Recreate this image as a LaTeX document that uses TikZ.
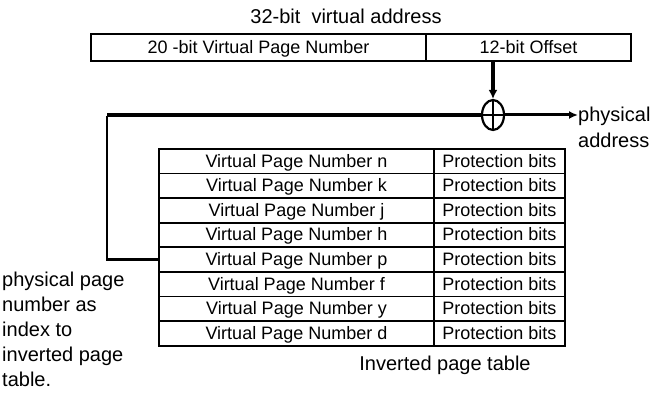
\documentclass[tikz,border=0pt]{standalone}
\usepackage{fontspec}
\setmainfont{Liberation Sans}
\usetikzlibrary{arrows.meta,shapes.geometric}
\newcommand{\cellfnt}{\fontsize{18}{20}\selectfont}
\newcommand{\lblfnt}{\fontsize{20}{25}\selectfont}
\begin{document}
\begin{tikzpicture}[x=1pt,y=-1pt,
  cell/.style={draw, line width=1.9pt, inner sep=0pt, font=\cellfnt, anchor=north west,
    text height=12.9pt, text depth=1pt},
  lbl/.style={font=\lblfnt, inner sep=0pt},
  wire/.style={line width=2.5pt},
  thickwire/.style={line width=4pt}]
\useasboundingbox (0,0) rectangle (654,411);
% title
\node[lbl] (title) at (346,16) {32-bit~~virtual address};
% virtual address box
\node[cell, minimum width=335pt, minimum height=27pt] (vpn) at (90,33) {20 -bit Virtual Page Number};
\node[cell, minimum width=205pt, minimum height=27pt] (off) at (425,33) {12-bit Offset};
% inverted page table
\foreach \l [count=\i from 0] in {n,k,j,h,p,f,y,d} {
  \node[cell, minimum width=275pt, minimum height=24.6pt] (v\l) at (158,{148+\i*24.6}) {Virtual Page Number \l};
  \node[cell, minimum width=131pt, minimum height=24.6pt] (p\l) at (433,{148+\i*24.6}) {Protection bits};
}
% combining circle
\node[draw, ellipse, line width=2.2pt, minimum width=22pt, minimum height=30pt, inner sep=0pt] (xor) at (493,115) {};
\draw[line width=1.8pt] (xor.north) -- (xor.south);
\draw[line width=1.8pt] (xor.west) -- (xor.east);
% offset arrow
\draw[thickwire, -{Latex[length=9pt,width=9pt]}] (xor |- off.south) -- (xor.north);
% labels
\node[lbl, anchor=north west, align=left, font=\fontsize{20}{26}\selectfont] (phys) at (578,107) {physical\\address};
\node[lbl, anchor=north west, align=left] (note) at (2,272) {physical page\\number as\\index to\\inverted page\\table.};
\node[lbl, anchor=base] (iptl) at (445,371) {Inverted page table};
% frame number path
\coordinate (c1) at (107,115);
\draw[thickwire] (xor.west) -- (c1);
\draw[wire, line join=miter] ([yshift=-1.5pt]c1) -- (c1 |- vp.west) -- (vp.west);
\draw[line width=3pt, -{Latex[length=9pt,width=8pt]}] (xor.east) -- (xor.east -| phys.west);
\end{tikzpicture}
\end{document}
